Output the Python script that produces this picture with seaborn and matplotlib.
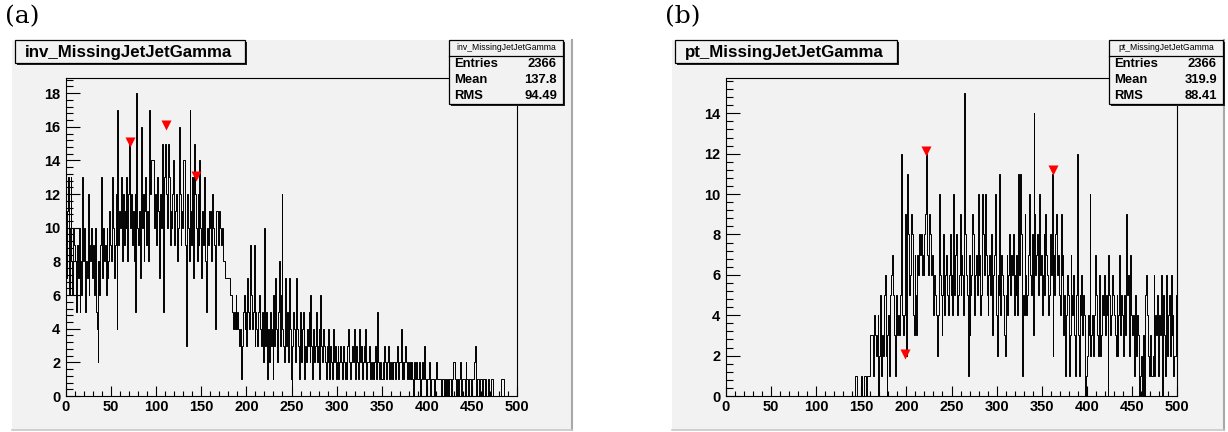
import numpy as np
import pandas as pd
import matplotlib
matplotlib.use("Agg")
import matplotlib.pyplot as plt
import seaborn as sns
from matplotlib.patches import Rectangle
from matplotlib.lines import Line2D
from matplotlib.ticker import MultipleLocator

# ---------------- data ----------------
panel_labels = ["(a)", "(b)"]
hist_names = ["inv_MissingJetJetGamma", "pt_MissingJetJetGamma"]
stat_names = ["Entries", "Mean", "RMS"]
stats_inv = ["2366", "137.8", "94.49"]
stats_pt = ["2366", "319.9", "88.41"]

inv_counts = [
    7, 11, 13, 6, 10, 13, 8, 6, 10, 9,      8, 5, 9, 7, 10, 5, 8, 6, 13, 8,
    10, 5, 8, 7, 12, 6, 9, 8, 10, 7,        9, 6, 10, 5, 4, 2, 8, 6, 9, 13,
    7, 10, 8, 9, 6, 10, 7, 8, 11, 9,        8, 13, 10, 7, 9, 12, 4, 17, 9, 11,
    10, 13, 8, 12, 9, 11, 10, 13, 8, 12,    15, 10, 12, 9, 11, 8, 12, 5, 18, 10,
    9, 11, 7, 16, 10, 12, 8, 11, 13, 9,     11, 8, 17, 12, 14, 14, 14, 14, 10, 12,
    9, 13, 11, 7, 12, 10, 15, 11, 5, 13,    15, 12, 10, 15, 13, 9, 11, 10, 12, 14,
    9, 11, 12, 8, 10, 16, 12, 9, 11, 10,    14, 14, 9, 3, 12, 10, 8, 17, 11, 9,
    13, 7, 15, 12, 10, 8, 12, 9, 14, 10,    7, 11, 9, 13, 8, 5, 10, 9, 11, 10,
    11, 8, 12, 10, 9, 4, 11, 11, 10, 9,     11, 10, 9, 10, 8, 8, 7, 7, 7, 7,
    7, 7, 6, 6, 5, 4, 5, 4, 6, 4,           5, 4, 3, 4, 1, 3, 5, 6, 4, 5,
    3, 7, 5, 4, 9, 6, 4, 5, 9, 3,           5, 4, 3, 5, 6, 4, 3, 5, 2, 4,
    10, 3, 5, 1, 4, 2, 5, 3, 4, 1,          6, 3, 7, 4, 2, 5, 8, 3, 6, 12,
    4, 3, 2, 7, 3, 5, 2, 7, 4, 1,           0, 3, 5, 4, 2, 7, 4, 3, 1, 5,
    3, 2, 4, 5, 1, 3, 2, 4, 3, 5,           2, 6, 3, 1, 4, 2, 3, 5, 2, 3,
    4, 1, 6, 3, 2, 4, 3, 2, 1, 3,           2, 4, 1, 3, 2, 1, 4, 2, 3, 1,
    2, 3, 1, 2, 3, 2, 1, 3, 2, 1,           2, 1, 3, 4, 2, 1, 2, 3, 2, 4,
    1, 2, 3, 2, 1, 4, 2, 3, 1, 2,           3, 2, 4, 1, 2, 2, 3, 1, 2, 1,
    2, 1, 2, 3, 1, 5, 2, 1, 2, 1,           1, 2, 1, 3, 2, 1, 2, 3, 1, 2,
    1, 2, 1, 2, 2, 1, 2, 3, 1, 2,           2, 4, 1, 2, 1, 2, 3, 2, 1, 2,
    1, 2, 1, 2, 1, 0, 2, 1, 2, 1,           1, 2, 1, 0, 1, 2, 1, 3, 1, 0,
    1, 1, 2, 1, 0, 1, 1, 1, 0, 1,           2, 1, 1, 1, 1, 1, 0, 1, 1, 0,
    1, 0, 1, 1, 0, 1, 1, 0, 1, 2,           2, 1, 0, 1, 1, 0, 1, 2, 0, 1,
    1, 1, 0, 2, 1, 1, 0, 1, 1, 0,           1, 1, 2, 3, 1, 0, 1, 1, 0, 1,
    1, 0, 1, 1, 0, 1, 0, 0, 1, 0,           0, 1, 1, 0, 0, 0, 0, 0, 0, 0,
    0, 0, 1, 1, 1, 1, 0, 0, 0, 0,           0, 0, 0, 0, 0, 0, 0, 0, 0, 0,
]

pt_counts = [
    0, 0, 0, 0, 0, 0, 0, 0, 0, 0,  0, 0, 0, 0, 0, 0, 0, 0, 0, 0,
    0, 0, 0, 0, 0, 0, 0, 0, 0, 0,  0, 0, 0, 0, 0, 0, 0, 0, 0, 0,
    0, 0, 0, 0, 0, 0, 0, 0, 0, 0,  0, 0, 0, 0, 0, 0, 0, 0, 0, 0,
    0, 0, 0, 0, 0, 0, 0, 0, 0, 0,  0, 0, 0, 0, 0, 0, 0, 0, 0, 0,
    0, 0, 0, 0, 0, 0, 0, 0, 0, 0,  0, 0, 0, 0, 0, 0, 0, 0, 0, 0,
    0, 0, 0, 0, 0, 0, 0, 0, 0, 0,  0, 0, 0, 0, 0, 0, 0, 0, 0, 0,
    0, 0, 0, 0, 0, 0, 0, 0, 0, 0,  0, 0, 0, 0, 0, 0, 0, 0, 0, 0,
    0, 0, 0, 1, 1, 0, 0, 0, 0, 0,  1, 0, 0, 1, 1, 0, 1, 1, 1, 1,
    3, 3, 3, 1, 4, 3, 2, 3, 4, 0,  2, 5, 1, 3, 2, 5, 6, 2, 0, 3,
    4, 1, 5, 6, 7, 5, 3, 1, 4, 5,  3, 4, 3, 5, 12, 4, 3, 4, 7, 9,
    2, 11, 8, 5, 6, 9, 8, 4, 3, 7, 5, 3, 7, 6, 8, 7, 8, 6, 7, 6,
    8, 9, 12, 7, 6, 9, 8, 6, 7, 5, 4, 6, 5, 4, 2, 4, 10, 6, 5, 3,
    5, 8, 4, 6, 7, 5, 4, 6, 8, 5,  6, 4, 10, 5, 7, 8, 4, 5, 6, 9,
    5, 7, 6, 4, 15, 8, 6, 5, 1, 7, 3, 5, 6, 9, 8, 4, 6, 7, 5, 10,
    6, 7, 4, 5, 10, 8, 6, 10, 7, 5, 4, 6, 7, 5, 8, 3, 6, 7, 10, 4,
    2, 6, 5, 11, 4, 7, 6, 5, 3, 2, 5, 7, 4, 6, 8, 5, 7, 6, 8, 4,
    6, 5, 7, 4, 11, 6, 11, 8, 1, 5, 4, 9, 6, 4, 5, 7, 10, 6, 5, 8,
    3, 14, 9, 6, 7, 8, 5, 10, 6, 7, 4, 6, 8, 5, 9, 7, 6, 4, 5, 8,
    6, 11, 2, 7, 5, 8, 9, 6, 7, 5, 4, 9, 6, 7, 3, 5, 1, 4, 6, 5,
    1, 3, 7, 5, 4, 6, 3, 1, 5, 12, 3, 1, 5, 4, 6, 3, 5, 4, 0, 1,
    2, 4, 3, 10, 2, 3, 4, 2, 4, 7, 5, 3, 2, 4, 6, 2, 3, 5, 4, 6,
    3, 5, 4, 0, 7, 5, 3, 4, 6, 5,  4, 3, 2, 5, 2, 4, 7, 3, 5, 4,
    2, 5, 3, 4, 9, 5, 6, 2, 7, 4,  3, 4, 1, 5, 3, 2, 4, 3, 0, 1,
    2, 0, 3, 0, 1, 5, 6, 4, 2, 1,  3, 1, 1, 2, 6, 1, 4, 3, 5, 1,
    4, 3, 6, 0, 4, 5, 3, 1, 6, 2,  4, 5, 2, 6, 3, 4, 1, 2, 2, 5,
]

bin_low = list(range(0, 500))          # lower edge of each 1-unit bin
inv_peak_x = [71, 111, 144]
inv_peak_y = [15.1, 16.1, 13.1]
pt_peak_x = [222, 362, 199]
pt_peak_y = [12.15, 11.2, 2.1]
x_range = (0, 500)
inv_ymax = 18.9
pt_ymax = 15.75

# ---------------- style ----------------
plt.rcParams["font.family"] = ["Liberation Sans", "DejaVu Sans"]
W, H = 1228, 432
fig = plt.figure(figsize=(W / 100, H / 100), dpi=100, facecolor="white")
CANVAS = "#f2f2f2"


def rect_fig(x0, y0, x1, y1, **kw):
    r = Rectangle((x0 / W, 1 - y1 / H), (x1 - x0) / W, (y1 - y0) / H,
                  transform=fig.transFigure, **kw)
    fig.add_artist(r)
    return r


def line_fig(xs, ys, **kw):
    l = Line2D([x / W for x in xs], [1 - y / H for y in ys],
               transform=fig.transFigure, **kw)
    fig.add_artist(l)


def text_fig(x, y, s, **kw):
    fig.text(x / W, 1 - y / H, s, **kw)


def shadow_box(x0, y0, x1, y1):
    rect_fig(x0 + 2, y0 + 2, x1 + 2, y1 + 2, facecolor="#222222",
             edgecolor="none", zorder=5)
    rect_fig(x0, y0, x1, y1, facecolor=CANVAS, edgecolor="black",
             linewidth=0.9, zorder=6)


panels = [
    dict(dx=0, label=panel_labels[0], name=hist_names[0], counts=inv_counts,
         px=inv_peak_x, py=inv_peak_y, ymax=inv_ymax, stats=stats_inv,
         title_w=230, canvas_r=572),
    dict(dx=660, label=panel_labels[1], name=hist_names[1], counts=pt_counts,
         px=pt_peak_x, py=pt_peak_y, ymax=pt_ymax, stats=stats_pt,
         title_w=222, canvas_r=1224),
]

for p in panels:
    dx = p["dx"]
    # canvas
    rect_fig(12 + dx, 40, p["canvas_r"], 430, facecolor=CANVAS,
             edgecolor="none", zorder=-5)
    line_fig([p["canvas_r"], p["canvas_r"]], [40, 430], color="#a8a8a8",
             linewidth=1.5, zorder=-4)
    line_fig([12 + dx, p["canvas_r"]], [430, 430], color="#c8c8c8",
             linewidth=1.2, zorder=-4)

    # panel letter
    text_fig(5 + dx, 17, p["label"], family="DejaVu Serif", fontsize=18,
             va="center", ha="left")

    # axes
    x0, x1, y0, y1 = 66 + dx, 517 + dx, 78, 396
    ax = fig.add_axes([x0 / W, 1 - y1 / H, (x1 - x0) / W, (y1 - y0) / H])
    ax.set_facecolor(CANVAS)
    df = pd.DataFrame({"x": [b + 0.5 for b in bin_low], "w": p["counts"]})
    sns.histplot(data=df, x="x", weights="w", bins=len(bin_low),
                 binrange=x_range, element="step", fill=False,
                 color="black", linewidth=0.7, ax=ax)
    pk = pd.DataFrame({"x": p["px"], "y": p["py"]})
    sns.scatterplot(data=pk, x="x", y="y", marker="v", color="red", s=52,
                    linewidth=0, ax=ax, zorder=5, clip_on=False)
    ax.set_xlim(*x_range)
    ax.set_ylim(0, p["ymax"])
    ax.set_xlabel("")
    ax.set_ylabel("")
    for sp in ax.spines.values():
        sp.set_linewidth(0.8)
        sp.set_color("black")
    ax.xaxis.set_major_locator(MultipleLocator(50))
    ax.xaxis.set_minor_locator(MultipleLocator(10))
    ax.yaxis.set_major_locator(MultipleLocator(2))
    ax.yaxis.set_minor_locator(MultipleLocator(0.4))
    ax.tick_params(axis="y", which="major", direction="in", length=10,
                   width=0.8, labelsize=10.5, pad=4)
    ax.tick_params(axis="y", which="minor", direction="in", length=5,
                   width=0.8)
    ax.tick_params(axis="x", which="major", direction="in", length=7,
                   width=0.8, labelsize=10.5, pad=3)
    ax.tick_params(axis="x", which="minor", direction="in", length=3.5,
                   width=0.8)
    yt = ax.get_yticks()
    yt = [t for t in yt if 0 <= t <= p["ymax"]]
    ax.set_yticks(yt)
    ax.set_yticklabels([f"{int(t)}" for t in yt], fontweight="bold")
    xt = [t for t in ax.get_xticks() if x_range[0] <= t <= x_range[1]]
    ax.set_xticks(xt)
    ax.set_xticklabels([f"{int(t)}" for t in xt], fontweight="bold")

    # title box
    shadow_box(15 + dx, 40, 15 + dx + p["title_w"], 63)
    text_fig(25 + dx, 52, p["name"], fontsize=12.2, fontweight="bold",
             va="center", ha="left", zorder=7)

    # stats box
    sx0, sx1 = 449 + dx, 563 + dx
    shadow_box(sx0, 40, sx1, 104)
    line_fig([sx0, sx1], [56, 56], color="black", linewidth=0.9, zorder=7)
    text_fig((sx0 + sx1) / 2, 48, p["name"], fontsize=6.2, ha="center",
             va="center", zorder=7)
    for i, (nm, val) in enumerate(zip(stat_names, p["stats"])):
        yy = 64 + 16 * i
        text_fig(sx0 + 5, yy, nm, fontsize=9.4, fontweight="bold",
                 ha="left", va="center", zorder=7)
        text_fig(sx1 - 6, yy, val, fontsize=9.4, fontweight="bold",
                 ha="right", va="center", zorder=7)

fig.savefig("out.png", dpi=100, facecolor="white")
